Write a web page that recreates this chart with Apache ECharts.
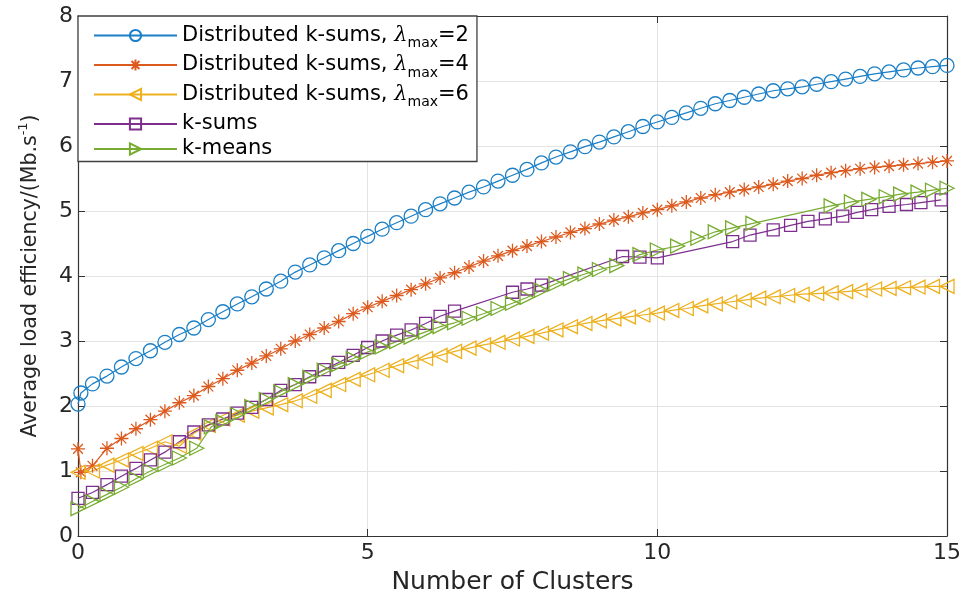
<!DOCTYPE html>
<html>
<head>
<meta charset="utf-8">
<script src="https://cdn.jsdelivr.net/npm/echarts@6/dist/echarts.min.js"></script>
<style>
  html, body { margin: 0; padding: 0; background: #fff; }
  #chart { width: 964px; height: 600px; }
</style>
</head>
<body>
<div id="chart"></div>
<script>
// ── datos ────────────────────────────────────────────────────────────────
const xTicks = [0, 5, 10, 15];

const xBlue = [0, 0.05, 0.25, 0.5, 0.75, 1, 1.25, 1.5, 1.75, 2, 2.25, 2.5, 2.75, 3, 3.25, 3.5, 3.75, 4, 4.25, 4.5, 4.75, 5,
  5.25, 5.5, 5.75, 6, 6.25, 6.5, 6.75, 7, 7.25, 7.5, 7.75, 8, 8.25, 8.5, 8.75, 9, 9.25, 9.5, 9.75, 10,
  10.25, 10.5, 10.75, 11, 11.25, 11.5, 11.75, 12, 12.25, 12.5, 12.75, 13, 13.25, 13.5, 13.75, 14, 14.25, 14.5, 14.75, 15];
const yBlue = [2.03, 2.2, 2.34, 2.46, 2.6, 2.73, 2.85, 2.98, 3.1, 3.2, 3.33, 3.45, 3.57, 3.68, 3.8, 3.92, 4.06, 4.17, 4.28, 4.39, 4.5, 4.61,
  4.72, 4.82, 4.92, 5.02, 5.11, 5.2, 5.29, 5.37, 5.46, 5.55, 5.64, 5.74, 5.83, 5.91, 5.99, 6.06, 6.14, 6.22, 6.3, 6.37,
  6.44, 6.51, 6.58, 6.65, 6.7, 6.75, 6.8, 6.85, 6.88, 6.91, 6.95, 6.99, 7.03, 7.07, 7.11, 7.14, 7.17, 7.2, 7.22, 7.24];

const xOrange = xBlue;
const yOrange = [1.34, 0.98, 1.08, 1.35, 1.5, 1.65, 1.79, 1.92, 2.05, 2.16, 2.3, 2.42, 2.55, 2.66, 2.77, 2.88, 3.0, 3.1, 3.2, 3.3, 3.42, 3.52,
  3.61, 3.7, 3.79, 3.88, 3.97, 4.05, 4.14, 4.23, 4.31, 4.39, 4.46, 4.53, 4.6, 4.67, 4.73, 4.8, 4.86, 4.91, 4.97, 5.02,
  5.08, 5.14, 5.2, 5.25, 5.29, 5.33, 5.37, 5.41, 5.46, 5.5, 5.55, 5.59, 5.62, 5.65, 5.67, 5.69, 5.71, 5.73, 5.75, 5.77];

const xYellow = [0, 0.25, 0.5, 0.75, 1, 1.25, 1.5, 1.75, 2, 2.25, 2.5, 2.75, 3, 3.25, 3.5, 3.75, 4, 4.25, 4.5, 4.75, 5,
  5.25, 5.5, 5.75, 6, 6.25, 6.5, 6.75, 7, 7.25, 7.5, 7.75, 8, 8.25, 8.5, 8.75, 9, 9.25, 9.5, 9.75, 10,
  10.25, 10.5, 10.75, 11, 11.25, 11.5, 11.75, 12, 12.25, 12.5, 12.75, 13, 13.25, 13.5, 13.75, 14, 14.25, 14.5, 14.75, 15];
const yYellow = [0.98, 1.0, 1.09, 1.17, 1.27, 1.35, 1.45, 1.38, 1.58, 1.7, 1.8, 1.86, 1.92, 1.97, 2.02, 2.08, 2.15, 2.24, 2.33, 2.41, 2.48,
  2.55, 2.62, 2.68, 2.73, 2.78, 2.84, 2.89, 2.94, 2.98, 3.03, 3.07, 3.12, 3.17, 3.22, 3.27, 3.31, 3.34, 3.37, 3.4, 3.43,
  3.47, 3.5, 3.54, 3.57, 3.6, 3.63, 3.66, 3.68, 3.7, 3.72, 3.73, 3.74, 3.76, 3.78, 3.8, 3.81, 3.82, 3.83, 3.84, 3.84];

const xPurple = [0, 0.25, 0.5, 0.75, 1, 1.25, 1.5, 1.75, 2, 2.25, 2.5, 2.75, 3, 3.25, 3.5, 3.75, 4, 4.25, 4.5, 4.75, 5,
  5.25, 5.5, 5.75, 6, 6.25, 6.5, 7.5, 7.75, 8, 9.4, 9.7, 10,
  11.3, 11.6, 12, 12.3, 12.6, 12.9, 13.2, 13.45, 13.7, 14, 14.3, 14.55, 14.9];
const yPurple = [0.58, 0.67, 0.79, 0.92, 1.04, 1.17, 1.29, 1.45, 1.6, 1.71, 1.8, 1.89, 1.98, 2.1, 2.24, 2.33, 2.45, 2.56, 2.67, 2.78, 2.9,
  3.0, 3.09, 3.17, 3.27, 3.38, 3.46, 3.75, 3.8, 3.86, 4.3, 4.29, 4.28,
  4.53, 4.63, 4.71, 4.78, 4.84, 4.88, 4.92, 4.98, 5.02, 5.07, 5.1, 5.13, 5.17];

const xGreen = [0, 0.25, 0.5, 0.75, 1, 1.25, 1.5, 1.75, 2.05, 2.3, 2.5, 2.75, 3, 3.25, 3.5, 3.75, 4, 4.25, 4.5, 4.75, 5,
  5.25, 5.5, 5.75, 6, 6.25, 6.5, 6.75, 7, 7.25, 7.5, 7.75, 8, 8.25, 8.5, 8.75, 9, 9.3, 9.7, 10,
  10.35, 10.7, 11, 11.3, 11.65, 13, 13.35, 13.65, 13.95, 14.2, 14.5, 14.75, 15];
const yGreen = [0.42, 0.53, 0.64, 0.75, 0.88, 1.0, 1.1, 1.2, 1.35, 1.68, 1.76, 1.87, 1.99, 2.1, 2.22, 2.33, 2.44, 2.55, 2.64, 2.73, 2.83,
  2.91, 2.99, 3.06, 3.14, 3.22, 3.28, 3.35, 3.42, 3.5, 3.58, 3.67, 3.78, 3.88, 3.96, 4.03, 4.1, 4.16, 4.33, 4.4,
  4.46, 4.58, 4.68, 4.74, 4.81, 5.08, 5.14, 5.18, 5.22, 5.26, 5.29, 5.32, 5.35];

const nombres = [
  "Distributed k-sums, λmax=2",
  "Distributed k-sums, λmax=4",
  "Distributed k-sums, λmax=6",
  "k-sums",
  "k-means"
];

// ── estilo ───────────────────────────────────────────────────────────────
const colores = {
  azul: "#1a7fc6",
  naranja: "#dc5a1e",
  amarillo: "#EDB120",
  morado: "#7E2F8E",
  verde: "#77AC30",
  texto: "#262626",
  eje: "#333333",
  grid: "#e3e3e3"
};
const fuente = "DejaVu Sans";
const asterisco = "path://M0,5L10,5M5,0L5,10M1.5,1.5L8.5,8.5M1.5,8.5L8.5,1.5";

const pares = (xs, ys) => xs.map((x, i) => [x, ys[i]]);

const serie = (nombre, xs, ys, color, simbolo, tam, giro) => ({
  name: nombre,
  type: "line",
  data: pares(xs, ys),
  symbol: simbolo,
  symbolSize: tam,
  symbolRotate: giro || 0,
  clip: false,
  lineStyle: { color: color, width: 1.2 },
  itemStyle: { color: "none", borderColor: color, borderWidth: 1.3 },
  emphasis: { disabled: true },
  animation: false
});

// k-sums lleva más alto de línea para separarse de la fila con subíndice
const leyendaTexto = (nombre) => {
  const m = nombre.match(/^(.*), λmax=(\d)$/);
  if (m) return `{t|${m[1]}, }{l|λ}{s|max}{t|=${m[2]}}`;
  return nombre === "k-sums" ? `{p|${nombre}}` : `{q|${nombre}}`;
};

const ejeBase = {
  type: "value",
  axisLine: { show: true, onZero: false, lineStyle: { color: colores.eje, width: 1.2 } },
  axisTick: { show: true, inside: true, length: 7, lineStyle: { color: colores.eje } },
  splitLine: { show: false },
  axisLabel: { show: false }
};

const chart = echarts.init(document.getElementById("chart"), null, { renderer: "canvas" });

chart.setOption({
  backgroundColor: "#fff",
  animation: false,
  grid: { left: 78, right: 15, top: 16, bottom: 61, containLabel: false },
  legend: {
    data: nombres,
    orient: "vertical",
    left: 78,
    top: 16,
    align: "left",
    padding: [9, 8, 2, 15],
    itemGap: 4,
    itemWidth: 83,
    itemHeight: 14,
    backgroundColor: "#fff",
    borderColor: "#404040",
    borderWidth: 1.3,
    selectedMode: false,
    formatter: leyendaTexto,
    textStyle: {
      color: "#000",
      fontFamily: fuente,
      fontSize: 21,
      rich: {
        t: { fontFamily: fuente, fontSize: 21, color: "#000", lineHeight: 30 },
        l: { fontFamily: "DejaVu Serif", fontStyle: "italic", fontSize: 21, color: "#000", lineHeight: 30 },
        s: { fontFamily: fuente, fontSize: 14, color: "#000", lineHeight: 12, verticalAlign: "bottom" },
        p: { fontFamily: fuente, fontSize: 21, color: "#000", lineHeight: 36 },
        q: { fontFamily: fuente, fontSize: 21, color: "#000", lineHeight: 18 }
      }
    }
  },
  xAxis: [
    {
      ...ejeBase,
      min: 0, max: 15, interval: 5,
      position: "bottom",
      splitLine: { show: true, lineStyle: { color: colores.grid, width: 1 } },
      axisLabel: {
        show: true, color: colores.texto, fontFamily: fuente, fontSize: 22, margin: 6,
        formatter: (v) => (xTicks.includes(v) ? String(v) : "")
      },
      name: "Number of Clusters",
      nameLocation: "middle",
      nameGap: 34,
      nameTextStyle: { color: colores.texto, fontFamily: fuente, fontSize: 25 }
    },
    { ...ejeBase, min: 0, max: 15, interval: 5, position: "top" }
  ],
  yAxis: [
    {
      ...ejeBase,
      min: 0, max: 8, interval: 1,
      position: "left",
      splitLine: { show: true, lineStyle: { color: colores.grid, width: 1 } },
      axisLabel: { show: true, color: colores.texto, fontFamily: fuente, fontSize: 22, margin: 5 },
      name: "Average load efficiency/(Mb.s{sup|-1})",
      nameLocation: "middle",
      nameGap: 33,
      nameTextStyle: {
        color: colores.texto, fontFamily: fuente, fontSize: 20.5,
        rich: {
          sup: { fontFamily: fuente, fontSize: 13, color: colores.texto, verticalAlign: "top", lineHeight: 28 }
        }
      }
    },
    { ...ejeBase, min: 0, max: 8, interval: 1, position: "right" }
  ],
  series: [
    serie(nombres[0], xBlue, yBlue, colores.azul, "circle", 14),
    serie(nombres[1], xOrange, yOrange, colores.naranja, asterisco, 14),
    serie(nombres[2], xYellow, yYellow, colores.amarillo, "triangle", 14, 90),
    serie(nombres[3], xPurple, yPurple, colores.morado, "rect", 12),
    serie(nombres[4], xGreen, yGreen, colores.verde, "triangle", 14, -90)
  ]
});
</script>
</body>
</html>
